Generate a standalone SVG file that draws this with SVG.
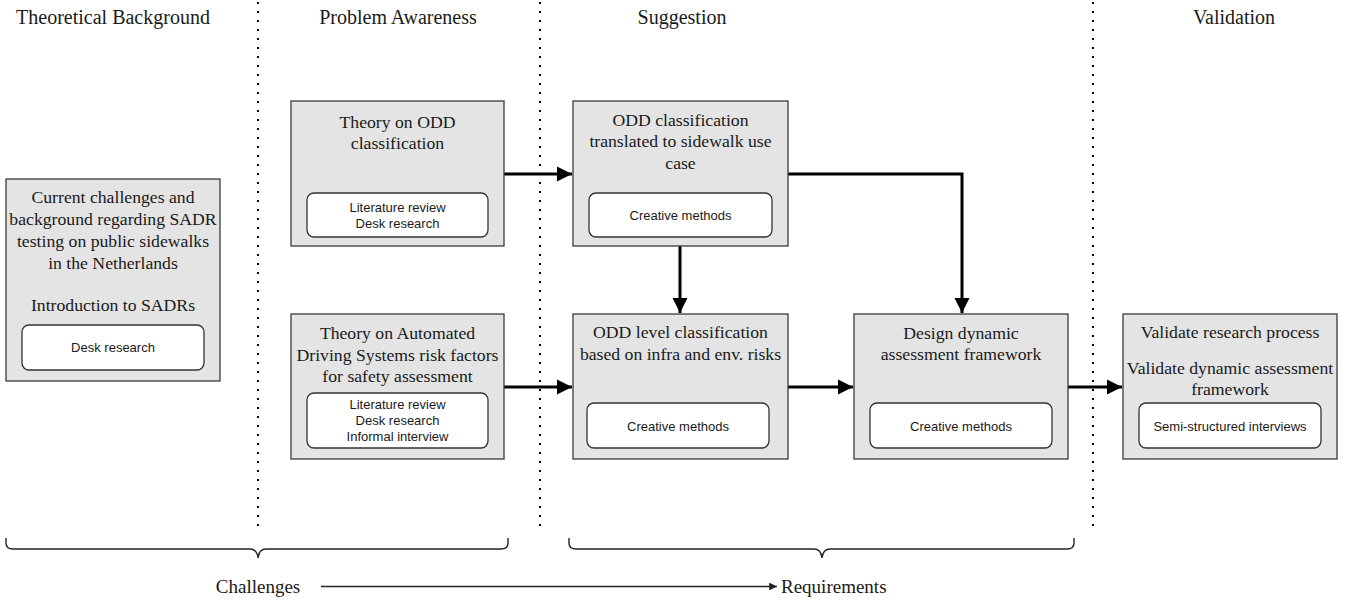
<svg xmlns="http://www.w3.org/2000/svg" width="1351" height="600" viewBox="0 0 1351 600">
  <style>
    .hdr { font-family: "Liberation Serif", "Times New Roman", serif; font-size: 20px; fill: #1a1a1a; text-anchor: middle; }
    .ttl { font-family: "Liberation Serif", "Times New Roman", serif; font-size: 17.7px; fill: #1a1a1a; text-anchor: middle; }
    .sub { font-family: "Liberation Sans", Arial, sans-serif; font-size: 13px; fill: #1a1a1a; text-anchor: middle; }
    .box { fill: #e4e4e4; stroke: #3a3a3a; stroke-width: 1.3; }
    .inner { fill: #ffffff; stroke: #333333; stroke-width: 1.3; }
    .sep { stroke: #000000; stroke-width: 2; stroke-dasharray: 2 7; }
    .flow { fill: none; stroke: #000000; stroke-width: 3; marker-end: url(#head); }
    .brace { fill: none; stroke: #222222; stroke-width: 1.4; }
    .thin { fill: none; stroke: #222222; stroke-width: 1.3; marker-end: url(#small); }
  </style>
  <defs>
    <marker id="head" viewBox="0 0 10 10" refX="10" refY="5" markerWidth="5" markerHeight="5.4" orient="auto" markerUnits="strokeWidth">
      <path d="M0,0 L10,5 L0,10 Z" fill="#000000"/>
    </marker>
    <marker id="small" viewBox="0 0 10 10" refX="10" refY="5" markerWidth="6" markerHeight="6" orient="auto" markerUnits="strokeWidth">
      <path d="M0,0 L10,5 L0,10 Z" fill="#222222"/>
    </marker>
  </defs>

  <rect width="1351" height="600" fill="#ffffff"/>

  <!-- phase headers -->
  <g id="headers">
    <text class="hdr" x="113" y="24">Theoretical Background</text>
    <text class="hdr" x="398" y="24">Problem Awareness</text>
    <text class="hdr" x="682" y="24">Suggestion</text>
    <text class="hdr" x="1234" y="24">Validation</text>
  </g>

  <!-- phase separators -->
  <g id="separators">
    <line class="sep" x1="258" y1="2" x2="258" y2="528"/>
    <line class="sep" x1="540" y1="2" x2="540" y2="528"/>
    <line class="sep" x1="1093" y1="2" x2="1093" y2="528"/>
  </g>

  <!-- connectors -->
  <g id="connectors">
    <line class="flow" x1="504" y1="174" x2="572" y2="174"/>
    <line class="flow" x1="504" y1="387" x2="572" y2="387"/>
    <line class="flow" x1="680" y1="246" x2="680" y2="313"/>
    <path class="flow" d="M788,174 H962 V313"/>
    <line class="flow" x1="788" y1="387" x2="853" y2="387"/>
    <line class="flow" x1="1068" y1="387" x2="1122" y2="387"/>
  </g>

  <g id="background">
    <rect class="box" x="6" y="179" width="214" height="202"/>
    <text class="ttl" x="113" y="203">Current challenges and</text>
    <text class="ttl" x="113" y="225">background regarding SADR</text>
    <text class="ttl" x="113" y="247">testing on public sidewalks</text>
    <text class="ttl" x="113" y="269">in the Netherlands</text>
    <text class="ttl" x="113" y="311">Introduction to SADRs</text>
    <rect class="inner" x="22" y="325" width="182" height="45" rx="7"/>
    <text class="sub" x="113" y="352">Desk research</text>
  </g>

  <g id="odd-theory">
    <rect class="box" x="291" y="101" width="213" height="145"/>
    <text class="ttl" x="397.5" y="127.5">Theory on ODD</text>
    <text class="ttl" x="397.5" y="149">classification</text>
    <rect class="inner" x="307" y="193" width="181" height="44" rx="7"/>
    <text class="sub" x="397.5" y="211.5">Literature review</text>
    <text class="sub" x="397.5" y="227.5">Desk research</text>
  </g>

  <g id="ads-theory">
    <rect class="box" x="291" y="314" width="213" height="145"/>
    <text class="ttl" x="397.5" y="339">Theory on Automated</text>
    <text class="ttl" x="397.5" y="361">Driving Systems risk factors</text>
    <text class="ttl" x="397.5" y="382">for safety assessment</text>
    <rect class="inner" x="307" y="393" width="181" height="55" rx="7"/>
    <text class="sub" x="397.5" y="408.5">Literature review</text>
    <text class="sub" x="397.5" y="424.5">Desk research</text>
    <text class="sub" x="397.5" y="440.5">Informal interview</text>
  </g>

  <g id="odd-sidewalk">
    <rect class="box" x="573" y="101" width="215" height="145"/>
    <text class="ttl" x="680.5" y="125.5">ODD classification</text>
    <text class="ttl" x="680.5" y="147">translated to sidewalk use</text>
    <text class="ttl" x="680.5" y="168.5">case</text>
    <rect class="inner" x="589" y="193" width="183" height="44" rx="7"/>
    <text class="sub" x="680.5" y="219.5">Creative methods</text>
  </g>

  <g id="odd-level">
    <rect class="box" x="573" y="314" width="215" height="145"/>
    <text class="ttl" x="680.5" y="338">ODD level classification</text>
    <text class="ttl" x="680.5" y="360">based on infra and env. risks</text>
    <rect class="inner" x="587" y="403" width="182" height="45" rx="7"/>
    <text class="sub" x="678" y="430.5">Creative methods</text>
  </g>

  <g id="framework">
    <rect class="box" x="854" y="314" width="214" height="145"/>
    <text class="ttl" x="961" y="339">Design dynamic</text>
    <text class="ttl" x="961" y="360">assessment framework</text>
    <rect class="inner" x="870" y="403" width="182" height="45" rx="7"/>
    <text class="sub" x="961" y="430.5">Creative methods</text>
  </g>

  <g id="validation">
    <rect class="box" x="1123" y="314" width="214" height="145"/>
    <text class="ttl" x="1230" y="338">Validate research process</text>
    <text class="ttl" x="1230" y="374">Validate dynamic assessment</text>
    <text class="ttl" x="1230" y="395">framework</text>
    <rect class="inner" x="1139" y="403" width="182" height="45" rx="7"/>
    <text class="sub" x="1230" y="430.5">Semi-structured interviews</text>
  </g>

  <!-- grouping braces -->
  <g id="braces">
    <path class="brace" d="M6,538 V543 Q6,549 13,549 H250 Q257,549 258,558 Q259,549 266,549 H501 Q508,549 508,543 V538"/>
    <path class="brace" d="M569,538 V543 Q569,549 576,549 H814 Q821,549 822,558 Q823,549 830,549 H1067 Q1074,549 1074,543 V538"/>
  </g>

  <g id="challenges-requirements">
    <text class="hdr" style="font-size:19px" x="258" y="593">Challenges</text>
    <line class="thin" x1="321" y1="586.5" x2="777" y2="586.5"/>
    <text class="hdr" style="font-size:19px; text-anchor:start" x="781" y="593">Requirements</text>
  </g>
</svg>
